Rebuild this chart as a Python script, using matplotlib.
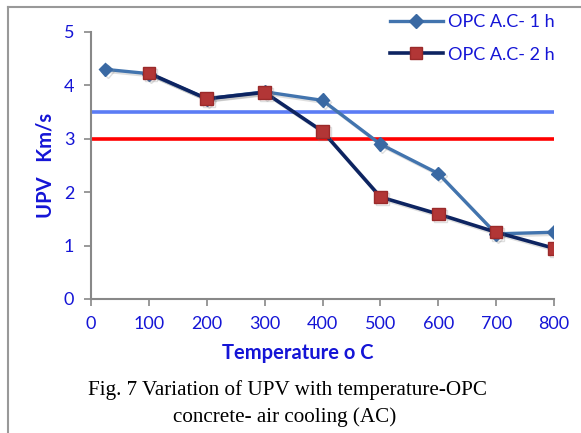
import matplotlib
matplotlib.use("Agg")
import matplotlib.pyplot as plt
from matplotlib.lines import Line2D
import matplotlib.patheffects as pe

temp_1h = [25, 100, 200, 300, 400, 500, 600, 700, 800]
upv_1h = [4.30, 4.22, 3.75, 3.88, 3.72, 2.90, 2.35, 1.22, 1.25]
temp_2h = [100, 200, 300, 400, 500, 600, 700, 800]
upv_2h = [4.23, 3.75, 3.87, 3.14, 1.91, 1.59, 1.25, 0.95]
ref_levels = [3.5, 3.0]
ref_colors = ["#5b7cf5", "#ff0000"]
xticks = [0, 100, 200, 300, 400, 500, 600, 700, 800]
yticks = [0, 1, 2, 3, 4, 5]
labels = ["OPC A.C- 1 h", "OPC A.C- 2 h"]

blue_txt = "#1515d6"
sans = ["Lato", "DejaVu Sans"]
serif = ["Liberation Serif", "DejaVu Serif"]

fig = plt.figure(figsize=(5.81, 4.33), dpi=100)
ax = fig.add_axes([0.1566, 0.3095, 0.797, 0.6166])

shadow = [pe.SimpleLineShadow(offset=(1.5, -1.5), alpha=0.25, shadow_color="gray"), pe.Normal()]

for lvl, c in zip(ref_levels, ref_colors):
    ax.plot([0, 800], [lvl, lvl], color=c, lw=2.6, solid_capstyle="round", zorder=2)

ax.plot(temp_1h, upv_1h, color="#4274ae", lw=2.4, marker="D", ms=7,
        mfc="#3a69a3", mec="#3a69a3", zorder=3, path_effects=shadow)
ax.plot(temp_2h, upv_2h, color="#0d2461", lw=2.6, marker="s", ms=9,
        mfc="#b23636", mec="#9a2a2a", zorder=4, path_effects=shadow)

ax.set_xlim(0, 800)
ax.set_ylim(0, 5)
ax.set_xticks(xticks)
ax.set_yticks(yticks)
for s in ["top", "right"]:
    ax.spines[s].set_visible(False)
for s in ["left", "bottom"]:
    ax.spines[s].set_color("#888888")
    ax.spines[s].set_linewidth(1.5)
ax.tick_params(direction="out", length=5, width=1.2, color="#888888",
               labelcolor=blue_txt, labelsize=13, pad=7)
for lab in ax.get_xticklabels() + ax.get_yticklabels():
    lab.set_family(sans)

ax.set_ylabel("UPV   Km/s", color=blue_txt, fontsize=14.5, fontweight="bold",
              family=sans, labelpad=6)
fig.text(298 / 581, 1 - 353 / 433, "Temperature o C", color=blue_txt, fontsize=14.5,
         fontweight="bold", family=sans, ha="center", va="center")

fig.text(288 / 581, 1 - 390 / 433, "Fig. 7 Variation of UPV with temperature-OPC",
         family=serif, fontsize=15.2, ha="center", va="center")
fig.text(285 / 581, 1 - 417 / 433, "concrete- air cooling (AC)",
         family=serif, fontsize=15.2, ha="center", va="center")

handles = [
    Line2D([], [], color="#4274ae", lw=2.4, marker="D", ms=7, mfc="#3a69a3", mec="#3a69a3"),
    Line2D([], [], color="#0d2461", lw=2.6, marker="s", ms=9, mfc="#b23636", mec="#9a2a2a"),
]
leg = fig.legend(handles, labels, loc="upper left", bbox_to_anchor=(374 / 581, 1 + 2 / 433),
                 frameon=False, handlelength=2.9, handletextpad=0.3,
                 labelspacing=0.9, prop={"family": sans, "size": 13})
for t in leg.get_texts():
    t.set_color(blue_txt)

# figure frame (left and top edges)
fig.add_artist(Line2D([8 / 581, 8 / 581], [1 - 7 / 433, 0], color="#999999", lw=1.5,
                      transform=fig.transFigure))
fig.add_artist(Line2D([8 / 581, 1], [1 - 7 / 433, 1 - 7 / 433], color="#999999", lw=1.5,
                      transform=fig.transFigure))

fig.savefig("out.png", dpi=100)
